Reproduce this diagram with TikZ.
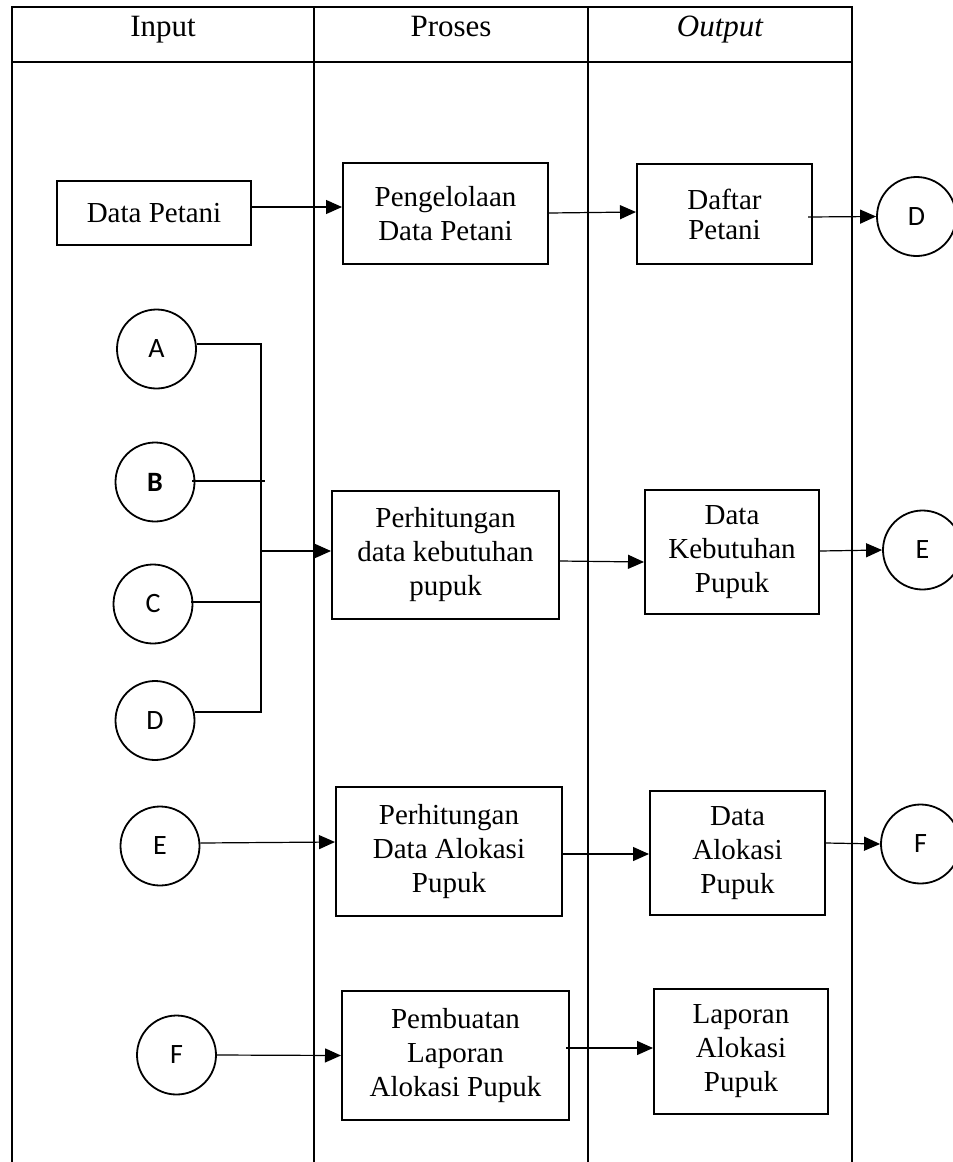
\documentclass[tikz,border=0pt]{standalone}
\usepackage{fontspec}
\setmainfont{Liberation Serif}
\newfontfamily\circfont{Carlito}
\usetikzlibrary{arrows.meta,calc}

\begin{document}
\begin{tikzpicture}[x=1pt,y=-1pt,
  frame/.style={line width=1.8pt},
  procbox/.style={draw, line width=2pt, align=center, inner sep=0pt,
    font=\fontsize{29}{34}\selectfont},
  conn/.style={circle, draw, line width=1.8pt, minimum size=79pt, inner sep=0pt,
    font=\circfont\fontsize{28}{32}\selectfont},
  link/.style={line width=1.2pt},
  arr/.style={link, -{Triangle[length=16pt,width=14pt]}},
  head/.style={font=\fontsize{31}{36}\selectfont, anchor=base}
]
\clip (0,0) rectangle (953,1162);

% swimlane table
\draw[frame] (12,1162) -- (12,6.7) -- (852,6.7) -- (852,1162);
\draw[frame] (12,62) -- (852,62);
\draw[frame] (314,6.7) -- (314,1162);
\draw[frame] (588,6.7) -- (588,1162);

\node[head] (hin)  at (163,36) {Input};
\node[head] (hpr)  at (451,36) {Proses};
\node[head] (hout) at (720,36) {\itshape Output};

% process and document boxes
\node[procbox, minimum width=194pt, minimum height=64pt]  (dp)     at (154,213)    {Data Petani};
\node[procbox, minimum width=205pt, minimum height=101pt] (pdp)    at (445.5,213.5) {Pengelolaan\\Data Petani};
\node[procbox, minimum width=175pt, minimum height=100pt,
      font=\fontsize{29}{30}\selectfont]                  (daftar) at (724.5,214)  {Daftar\\Petani};
\node[procbox, minimum width=227pt, minimum height=128pt] (perh)   at (445.5,555)  {Perhitungan\\data kebutuhan\\pupuk};
\node[procbox, minimum width=174pt, minimum height=124pt] (dk)     at (732,552)    {Data\\Kebutuhan\\Pupuk};
\node[procbox, minimum width=226pt, minimum height=129pt] (pa)     at (449,851.5)  {Perhitungan\\Data Alokasi\\Pupuk};
\node[procbox, minimum width=175pt, minimum height=124pt] (da)     at (737.5,853)  {Data\\Alokasi\\Pupuk};
\node[procbox, minimum width=227pt, minimum height=129pt] (pl)     at (455.5,1055.5) {Pembuatan\\Laporan\\Alokasi Pupuk};
\node[procbox, minimum width=174pt, minimum height=125pt] (lap)    at (741,1051.5) {Laporan\\Alokasi\\Pupuk};

% off-page connectors
\node[conn] (cA)  at (156.5,349) {A};
\node[conn] (cB)  at (155,482)   {\bfseries B};
\node[conn] (cC)  at (153,604)   {C};
\node[conn] (cDl) at (155,720.5) {D};
\node[conn] (cDr) at (916.5,216.5) {D};
\node[conn] (cEr) at (922.5,550) {E};
\node[conn] (cEl) at (160,846)   {E};
\node[conn] (cFr) at (920.5,844) {F};
\node[conn] (cFl) at (176.5,1055) {F};

% first row
\draw[arr] ([yshift=6pt]dp.east) -- ([yshift=6.5pt]pdp.west);
\draw[arr] ([yshift=0.5pt]pdp.east) -- ([yshift=2pt]daftar.west);
\draw[arr] ([xshift=-5pt,yshift=-3pt]daftar.east) -- (cDr.west);

% collecting bus from A, B, C, D
\coordinate (jA)   at (261,344);
\coordinate (jD)   at (261,712);
\coordinate (jIn)  at (261,551);
\coordinate (jC)   at (261,602);
\coordinate (bEnd) at (265,481);
\draw[link] ([yshift=5pt]cA.east) -- (jA) -- (jD) -- ([yshift=8.5pt]cDl.east);
\draw[link] ([xshift=-3pt,yshift=1pt]cB.east) -- (bEnd);
\draw[link] ([xshift=-2pt,yshift=2pt]cC.east) -- (jC);
\draw[line width=2.2pt] (jIn) -- (jC);
\draw[arr] (jIn) -- ([yshift=4pt]perh.west);

% second row
\draw[arr] ([yshift=-6pt]perh.east) -- ([yshift=-10pt]dk.west);
\draw[arr] ([yshift=1pt]dk.east) -- (cEr.west);

% third row
\draw[arr] ([yshift=3pt]cEl.east) -- ([yshift=9.5pt]pa.west);
\draw[arr] ([yshift=-2.5pt]pa.east) -- ([yshift=-1pt]da.west);
\draw[arr] ([yshift=10pt]da.east) -- (cFr.west);

% fourth row
\draw[arr] (cFl.east) -- (pl.west);
\draw[arr] ([xshift=-4pt,yshift=7.5pt]pl.east) -- ([yshift=3.5pt]lap.west);
\end{tikzpicture}
\end{document}
